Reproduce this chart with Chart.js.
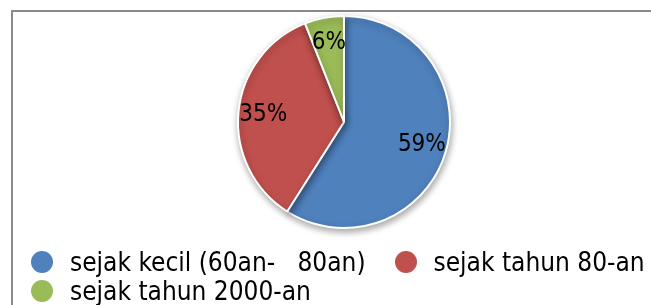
<!DOCTYPE html>
<html>
<head>
<meta charset="utf-8">
<script src="https://cdn.jsdelivr.net/npm/chart.js@4.4.1/dist/chart.umd.min.js"></script>
<style>
  html, body { margin: 0; padding: 0; background: #fff; overflow: hidden; }
  #wrap { position: relative; width: 651px; height: 305px; }
  #frame {
    position: absolute; left: 11px; top: 10px; width: 680px; height: 320px;
    border: 2px solid #8a8a8a; box-sizing: border-box;
  }
  #chart { position: absolute; left: 0; top: 0; }
  #legend {
    position: absolute; left: 31px; top: 248px; width: 640px;
    display: flex; flex-wrap: wrap; row-gap: 1px; column-gap: 29px;
    font-family: "DejaVu Sans Condensed", "DejaVu Sans", sans-serif;
    font-size: 26px; color: #000;
  }
  .item { display: flex; align-items: center; height: 28px; white-space: pre; }
  .dot {
    width: 22px; height: 22px; border-radius: 50%; margin-right: 17px;
    box-shadow: 0 0 0 1px rgba(255,255,255,0.9);
  }
</style>
</head>
<body>
<div id="wrap">
  <div id="frame"></div>
  <canvas id="chart" width="651" height="305"></canvas>
  <div id="legend"></div>
</div>
<script>
// chart data
const labels = ["sejak kecil (60an-   80an)", "sejak tahun 80-an", "sejak tahun 2000-an"];
const values = [59, 35, 6];
const colors = ["#4F81BD", "#C0504D", "#9BBB59"];

// percent labels inside the slices
const sliceLabels = {
  id: "sliceLabels",
  afterDatasetsDraw(chart) {
    const ctx = chart.ctx;
    const total = values.reduce((a, b) => a + b, 0);
    chart.getDatasetMeta(0).data.forEach((arc, i) => {
      const p = arc.getProps(["x", "y", "startAngle", "endAngle", "outerRadius"], true);
      const mid = (p.startAngle + p.endAngle) / 2;
      const r = p.outerRadius * 0.765;
      ctx.save();
      ctx.font = '24px "DejaVu Sans Condensed", "DejaVu Sans", sans-serif';
      ctx.fillStyle = "#000";
      ctx.textAlign = "center";
      ctx.textBaseline = "middle";
      ctx.fillText(Math.round(values[i] / total * 100) + "%", p.x + Math.cos(mid) * r, p.y + Math.sin(mid) * r);
      ctx.restore();
    });
  }
};

// soft drop shadow under the pie
const pieShadow = {
  id: "pieShadow",
  beforeDatasetsDraw(chart) {
    const ctx = chart.ctx;
    ctx.save();
    ctx.shadowColor = "rgba(0,0,0,0.35)";
    ctx.shadowBlur = 7;
    ctx.shadowOffsetX = 1;
    ctx.shadowOffsetY = 3;
  },
  afterDatasetsDraw(chart) {
    chart.ctx.restore();
  }
};

new Chart(document.getElementById("chart"), {
  type: "pie",
  data: {
    labels: labels,
    datasets: [{
      data: values,
      backgroundColor: colors,
      borderColor: "#ffffff",
      borderWidth: 2
    }]
  },
  options: {
    responsive: false,
    animation: false,
    layout: { padding: { left: 237, right: 200, top: 15, bottom: 76 } },
    plugins: {
      legend: { display: false },
      tooltip: { enabled: false }
    }
  },
  plugins: [pieShadow, sliceLabels]
});

// legend built from the same arrays
const legend = document.getElementById("legend");
labels.forEach((name, i) => {
  const item = document.createElement("div");
  item.className = "item";
  const dot = document.createElement("span");
  dot.className = "dot";
  dot.style.background = colors[i];
  const txt = document.createElement("span");
  txt.textContent = name;
  item.appendChild(dot);
  item.appendChild(txt);
  legend.appendChild(item);
});
</script>
</body>
</html>
